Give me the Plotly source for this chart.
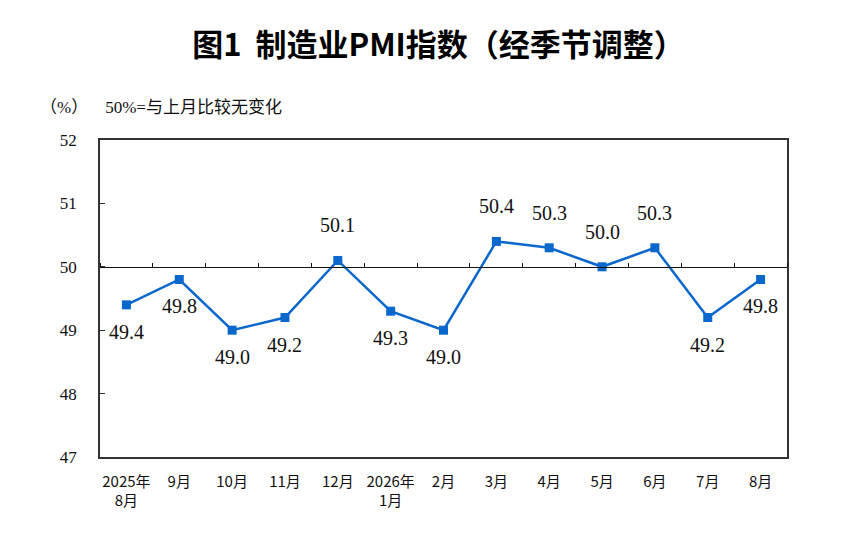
import plotly.graph_objects as go

# 制造业PMI（经季节调整）
months = ['2025年<br>8月', '9月', '10月', '11月', '12月', '2026年<br>1月', '2月',
          '3月', '4月', '5月', '6月', '7月', '8月']
pmi = [49.4, 49.8, 49.0, 49.2, 50.1, 49.3, 49.0, 50.4, 50.3, 50.0, 50.3, 49.2, 49.8]
y_ticks = [47, 48, 49, 50, 51, 52]

BLUE = '#0a67cc'
SERIF = 'Liberation Serif, Times New Roman, Noto Sans CJK SC, serif'
SANS = 'Noto Sans CJK SC, sans-serif'

fig = go.Figure()
fig.add_trace(go.Scatter(
    x=months, y=pmi,
    mode='lines+markers',
    line=dict(color=BLUE, width=2.5),
    marker=dict(symbol='square', size=9, color=BLUE),
    hoverinfo='skip',
))
# invisible trace that carries the 50 reference axis
fig.add_trace(go.Scatter(
    x=months, y=pmi, xaxis='x2', mode='lines',
    line=dict(width=0), opacity=0, hoverinfo='skip',
))

# value labels: above when >= 50, below otherwise
for m, v in zip(months, pmi):
    above = v >= 50
    fig.add_annotation(
        x=m, y=v, text=f'{v:.1f}', showarrow=False,
        yshift=35 if above else -27,
        font=dict(family=SERIF, size=20, color='#111'),
    )

fig.add_annotation(
    xref='paper', yref='paper', x=-0.09, y=1.065, xanchor='left', yanchor='bottom',
    text='（%）&nbsp;&nbsp;&nbsp;&nbsp;50%=与上月比较无变化', showarrow=False,
    font=dict(family=SERIF, size=17, color='#111'),
)

fig.update_layout(
    width=861, height=537,
    paper_bgcolor='white', plot_bgcolor='white',
    margin=dict(l=92, r=82, t=132, b=88),
    showlegend=False,
    title=dict(
        text='<b>图1  制造业PMI指数（经季节调整）</b>',
        x=0.5, xanchor='center', y=0.93, yanchor='middle',
        font=dict(family=SANS, size=31, color='#000'),
    ),
    xaxis=dict(
        type='category', range=[-0.5, 12.5],
        showline=True, linecolor='#333', linewidth=1.5, mirror=True,
        ticks='', showgrid=False,
        tickfont=dict(family=SANS, size=15, color='#111'),
        ticklabelstandoff=10,
    ),
    xaxis2=dict(
        type='category', range=[-0.5, 12.5], overlaying='x',
        anchor='free', position=0.6, side='top',
        showline=True, linecolor='#111', linewidth=1,
        ticks='outside', ticklen=4, tickcolor='#111', tickwidth=1,
        tickson='boundaries', showticklabels=False, showgrid=False,
    ),
    yaxis=dict(
        range=[47, 52], tickvals=y_ticks,
        showline=True, linecolor='#333', linewidth=1.5, mirror=True,
        ticks='inside', ticklen=5, tickcolor='#333',
        showgrid=False, zeroline=False,
        tickfont=dict(family=SERIF, size=17, color='#111'),
        ticklabelstandoff=18,
    ),
)

fig.write_html('out.html')
